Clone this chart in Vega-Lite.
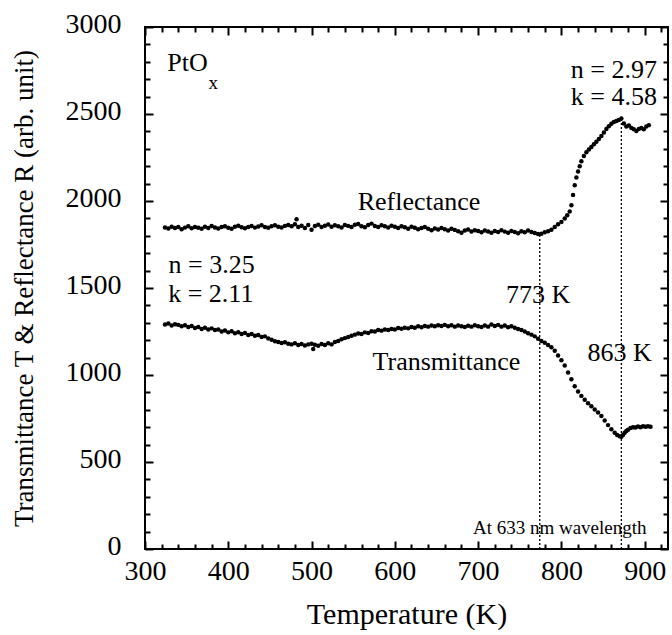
{
"$schema": "https://vega.github.io/schema/vega-lite/v6.json",
"width": 523, "height": 522,
"autosize": {"type": "none"},
"padding": {"left": 145, "top": 27, "right": 4, "bottom": 86},
"background": "white",
"config": {
  "view": {"stroke": "black", "strokeWidth": 2},
  "font": "Liberation Serif",
  "axis": {"labelFont": "Liberation Serif", "titleFont": "Liberation Serif", "labelColor": "black", "titleColor": "black", "tickColor": "black", "grid": false, "domain": false, "tickWidth": 2, "labelFlush": false, "labelOverlap": false, "titleFontWeight": "normal"}
},
"datasets": {
"pts": [
{"s":"R","t":324,"v":1848},{"s":"R","t":328,"v":1842},{"s":"R","t":332,"v":1852},{"s":"R","t":336,"v":1845},{"s":"R","t":340,"v":1850},{"s":"R","t":344,"v":1838},{"s":"R","t":348,"v":1847},{"s":"R","t":352,"v":1855},{"s":"R","t":356,"v":1843},{"s":"R","t":360,"v":1850},{"s":"R","t":364,"v":1846},{"s":"R","t":368,"v":1840},{"s":"R","t":372,"v":1852},{"s":"R","t":376,"v":1845},{"s":"R","t":380,"v":1856},{"s":"R","t":384,"v":1848},{"s":"R","t":388,"v":1842},{"s":"R","t":392,"v":1850},{"s":"R","t":396,"v":1855},{"s":"R","t":400,"v":1846},{"s":"R","t":404,"v":1840},{"s":"R","t":408,"v":1852},{"s":"R","t":412,"v":1858},{"s":"R","t":416,"v":1849},{"s":"R","t":420,"v":1843},{"s":"R","t":424,"v":1851},{"s":"R","t":428,"v":1856},{"s":"R","t":432,"v":1847},{"s":"R","t":436,"v":1853},{"s":"R","t":440,"v":1860},{"s":"R","t":444,"v":1851},{"s":"R","t":448,"v":1846},{"s":"R","t":452,"v":1855},{"s":"R","t":456,"v":1861},{"s":"R","t":460,"v":1852},{"s":"R","t":464,"v":1848},{"s":"R","t":468,"v":1857},{"s":"R","t":472,"v":1862},{"s":"R","t":476,"v":1855},{"s":"R","t":480,"v":1866},{"s":"R","t":482,"v":1895},{"s":"R","t":484,"v":1850},{"s":"R","t":488,"v":1858},{"s":"R","t":492,"v":1845},{"s":"R","t":496,"v":1862},{"s":"R","t":500,"v":1835},{"s":"R","t":504,"v":1856},{"s":"R","t":508,"v":1863},{"s":"R","t":512,"v":1850},{"s":"R","t":516,"v":1858},{"s":"R","t":520,"v":1865},{"s":"R","t":524,"v":1852},{"s":"R","t":528,"v":1860},{"s":"R","t":532,"v":1855},{"s":"R","t":536,"v":1848},{"s":"R","t":540,"v":1862},{"s":"R","t":544,"v":1857},{"s":"R","t":548,"v":1851},{"s":"R","t":552,"v":1863},{"s":"R","t":556,"v":1868},{"s":"R","t":560,"v":1855},{"s":"R","t":564,"v":1849},{"s":"R","t":568,"v":1862},{"s":"R","t":572,"v":1870},{"s":"R","t":576,"v":1856},{"s":"R","t":580,"v":1850},{"s":"R","t":584,"v":1861},{"s":"R","t":588,"v":1855},{"s":"R","t":592,"v":1848},{"s":"R","t":596,"v":1858},{"s":"R","t":600,"v":1852},{"s":"R","t":604,"v":1845},{"s":"R","t":608,"v":1855},{"s":"R","t":612,"v":1849},{"s":"R","t":616,"v":1840},{"s":"R","t":620,"v":1852},{"s":"R","t":624,"v":1846},{"s":"R","t":628,"v":1838},{"s":"R","t":632,"v":1845},{"s":"R","t":636,"v":1850},{"s":"R","t":640,"v":1840},{"s":"R","t":644,"v":1832},{"s":"R","t":648,"v":1842},{"s":"R","t":652,"v":1836},{"s":"R","t":656,"v":1845},{"s":"R","t":660,"v":1838},{"s":"R","t":664,"v":1830},{"s":"R","t":668,"v":1840},{"s":"R","t":672,"v":1834},{"s":"R","t":676,"v":1826},{"s":"R","t":680,"v":1818},{"s":"R","t":684,"v":1830},{"s":"R","t":688,"v":1836},{"s":"R","t":692,"v":1825},{"s":"R","t":696,"v":1832},{"s":"R","t":700,"v":1828},{"s":"R","t":704,"v":1820},{"s":"R","t":708,"v":1830},{"s":"R","t":712,"v":1825},{"s":"R","t":716,"v":1818},{"s":"R","t":720,"v":1828},{"s":"R","t":724,"v":1822},{"s":"R","t":728,"v":1832},{"s":"R","t":732,"v":1824},{"s":"R","t":736,"v":1818},{"s":"R","t":740,"v":1828},{"s":"R","t":744,"v":1822},{"s":"R","t":748,"v":1815},{"s":"R","t":752,"v":1826},{"s":"R","t":756,"v":1820},{"s":"R","t":760,"v":1830},{"s":"R","t":764,"v":1822},{"s":"R","t":768,"v":1816},{"s":"R","t":772,"v":1810},{"s":"R","t":776,"v":1812},{"s":"R","t":780,"v":1820},{"s":"R","t":784,"v":1826},{"s":"R","t":788,"v":1835},{"s":"R","t":792,"v":1850},{"s":"R","t":796,"v":1866},{"s":"R","t":800,"v":1880},{"s":"R","t":804,"v":1900},{"s":"R","t":807,"v":1918},{"s":"R","t":810,"v":1940},{"s":"R","t":812,"v":1975},{"s":"R","t":814,"v":2035},{"s":"R","t":816,"v":2090},{"s":"R","t":818,"v":2135},{"s":"R","t":820,"v":2170},{"s":"R","t":822,"v":2200},{"s":"R","t":824,"v":2228},{"s":"R","t":827,"v":2258},{"s":"R","t":830,"v":2280},{"s":"R","t":833,"v":2296},{"s":"R","t":836,"v":2310},{"s":"R","t":839,"v":2326},{"s":"R","t":842,"v":2340},{"s":"R","t":845,"v":2356},{"s":"R","t":848,"v":2374},{"s":"R","t":851,"v":2394},{"s":"R","t":854,"v":2414},{"s":"R","t":857,"v":2430},{"s":"R","t":860,"v":2444},{"s":"R","t":863,"v":2454},{"s":"R","t":866,"v":2460},{"s":"R","t":869,"v":2466},{"s":"R","t":872,"v":2474},{"s":"R","t":875,"v":2445},{"s":"R","t":878,"v":2428},{"s":"R","t":881,"v":2434},{"s":"R","t":884,"v":2420},{"s":"R","t":887,"v":2412},{"s":"R","t":890,"v":2402},{"s":"R","t":893,"v":2414},{"s":"R","t":896,"v":2420},{"s":"R","t":899,"v":2412},{"s":"R","t":902,"v":2428},{"s":"R","t":905,"v":2436},
{"s":"T","t":324,"v":1290},{"s":"T","t":328,"v":1296},{"s":"T","t":332,"v":1285},{"s":"T","t":336,"v":1292},{"s":"T","t":340,"v":1288},{"s":"T","t":344,"v":1280},{"s":"T","t":348,"v":1286},{"s":"T","t":352,"v":1276},{"s":"T","t":356,"v":1282},{"s":"T","t":360,"v":1270},{"s":"T","t":364,"v":1276},{"s":"T","t":368,"v":1265},{"s":"T","t":372,"v":1272},{"s":"T","t":376,"v":1262},{"s":"T","t":380,"v":1268},{"s":"T","t":384,"v":1258},{"s":"T","t":388,"v":1262},{"s":"T","t":392,"v":1250},{"s":"T","t":396,"v":1256},{"s":"T","t":400,"v":1245},{"s":"T","t":404,"v":1252},{"s":"T","t":408,"v":1240},{"s":"T","t":412,"v":1246},{"s":"T","t":416,"v":1236},{"s":"T","t":420,"v":1242},{"s":"T","t":424,"v":1230},{"s":"T","t":428,"v":1236},{"s":"T","t":432,"v":1225},{"s":"T","t":436,"v":1230},{"s":"T","t":440,"v":1218},{"s":"T","t":444,"v":1222},{"s":"T","t":448,"v":1210},{"s":"T","t":452,"v":1202},{"s":"T","t":456,"v":1194},{"s":"T","t":460,"v":1190},{"s":"T","t":464,"v":1184},{"s":"T","t":468,"v":1188},{"s":"T","t":472,"v":1180},{"s":"T","t":476,"v":1176},{"s":"T","t":480,"v":1182},{"s":"T","t":484,"v":1172},{"s":"T","t":488,"v":1178},{"s":"T","t":492,"v":1170},{"s":"T","t":496,"v":1176},{"s":"T","t":500,"v":1180},{"s":"T","t":502,"v":1150},{"s":"T","t":504,"v":1174},{"s":"T","t":508,"v":1168},{"s":"T","t":512,"v":1178},{"s":"T","t":516,"v":1172},{"s":"T","t":520,"v":1182},{"s":"T","t":524,"v":1176},{"s":"T","t":528,"v":1190},{"s":"T","t":532,"v":1196},{"s":"T","t":536,"v":1205},{"s":"T","t":540,"v":1212},{"s":"T","t":544,"v":1218},{"s":"T","t":548,"v":1226},{"s":"T","t":552,"v":1232},{"s":"T","t":556,"v":1238},{"s":"T","t":560,"v":1235},{"s":"T","t":564,"v":1245},{"s":"T","t":568,"v":1242},{"s":"T","t":572,"v":1252},{"s":"T","t":576,"v":1250},{"s":"T","t":580,"v":1258},{"s":"T","t":584,"v":1255},{"s":"T","t":588,"v":1262},{"s":"T","t":592,"v":1258},{"s":"T","t":596,"v":1265},{"s":"T","t":600,"v":1262},{"s":"T","t":604,"v":1270},{"s":"T","t":608,"v":1266},{"s":"T","t":612,"v":1272},{"s":"T","t":616,"v":1268},{"s":"T","t":620,"v":1276},{"s":"T","t":624,"v":1272},{"s":"T","t":628,"v":1280},{"s":"T","t":632,"v":1275},{"s":"T","t":636,"v":1282},{"s":"T","t":640,"v":1278},{"s":"T","t":644,"v":1285},{"s":"T","t":648,"v":1280},{"s":"T","t":652,"v":1286},{"s":"T","t":656,"v":1282},{"s":"T","t":660,"v":1288},{"s":"T","t":664,"v":1280},{"s":"T","t":668,"v":1286},{"s":"T","t":672,"v":1278},{"s":"T","t":676,"v":1284},{"s":"T","t":680,"v":1280},{"s":"T","t":684,"v":1276},{"s":"T","t":688,"v":1283},{"s":"T","t":692,"v":1278},{"s":"T","t":696,"v":1286},{"s":"T","t":700,"v":1280},{"s":"T","t":704,"v":1276},{"s":"T","t":708,"v":1284},{"s":"T","t":712,"v":1278},{"s":"T","t":716,"v":1290},{"s":"T","t":720,"v":1282},{"s":"T","t":724,"v":1288},{"s":"T","t":728,"v":1278},{"s":"T","t":732,"v":1284},{"s":"T","t":736,"v":1275},{"s":"T","t":740,"v":1280},{"s":"T","t":744,"v":1272},{"s":"T","t":748,"v":1265},{"s":"T","t":752,"v":1258},{"s":"T","t":756,"v":1250},{"s":"T","t":760,"v":1240},{"s":"T","t":764,"v":1232},{"s":"T","t":768,"v":1222},{"s":"T","t":772,"v":1208},{"s":"T","t":776,"v":1195},{"s":"T","t":780,"v":1185},{"s":"T","t":784,"v":1172},{"s":"T","t":788,"v":1160},{"s":"T","t":792,"v":1140},{"s":"T","t":796,"v":1112},{"s":"T","t":800,"v":1085},{"s":"T","t":804,"v":1055},{"s":"T","t":808,"v":1015},{"s":"T","t":812,"v":975},{"s":"T","t":816,"v":935},{"s":"T","t":820,"v":905},{"s":"T","t":824,"v":880},{"s":"T","t":828,"v":858},{"s":"T","t":832,"v":838},{"s":"T","t":836,"v":820},{"s":"T","t":840,"v":802},{"s":"T","t":844,"v":784},{"s":"T","t":848,"v":764},{"s":"T","t":852,"v":738},{"s":"T","t":856,"v":712},{"s":"T","t":860,"v":688},{"s":"T","t":864,"v":668},{"s":"T","t":867,"v":655},{"s":"T","t":870,"v":648},{"s":"T","t":872,"v":645},{"s":"T","t":874,"v":655},{"s":"T","t":876,"v":668},{"s":"T","t":878,"v":678},{"s":"T","t":880,"v":685},{"s":"T","t":883,"v":695},{"s":"T","t":886,"v":700},{"s":"T","t":889,"v":698},{"s":"T","t":892,"v":704},{"s":"T","t":895,"v":700},{"s":"T","t":898,"v":706},{"s":"T","t":901,"v":702},{"s":"T","t":904,"v":706},{"s":"T","t":907,"v":703}
],
"rules": [
{"t": 774, "y0": 0, "y1": 1812},
{"t": 872, "y0": 0, "y1": 2472}
],
"labels": [
{"t": 351, "v": 2793, "label": "PtO"},
{"t": 863, "v": 2755, "label": "n = 2.97"},
{"t": 863, "v": 2595, "label": "k = 4.58"},
{"t": 629, "v": 1995, "label": "Reflectance"},
{"t": 380, "v": 1630, "label": "n = 3.25"},
{"t": 379, "v": 1465, "label": "k = 2.11"},
{"t": 772, "v": 1460, "label": "773 K"},
{"t": 662, "v": 1072, "label": "Transmittance"},
{"t": 870, "v": 1126, "label": "863 K"}
],
"small": [
{"t": 382, "v": 2680, "label": "x"},
{"t": 798, "v": 118, "label": "At 633 nm wavelength"}
]
},
"resolve": {"axis": {"x": "independent", "y": "independent"}},
"layer": [
{
  "data": {"name": "pts"},
  "mark": {"type": "point", "filled": true, "color": "black", "size": 20, "opacity": 1},
  "encoding": {
    "x": {"field": "t", "type": "quantitative", "scale": {"domain": [300, 928], "nice": false, "zero": false},
      "axis": {"orient": "bottom", "values": [300, 400, 500, 600, 700, 800, 900], "format": "d", "tickSize": -8, "labelFontSize": 28, "labelPadding": 16, "title": "Temperature (K)", "titleFontSize": 30, "titlePadding": 14}},
    "y": {"field": "v", "type": "quantitative", "scale": {"domain": [0, 3000], "nice": false},
      "axis": {"orient": "left", "values": [0, 500, 1000, 1500, 2000, 2500, 3000], "format": "d", "tickSize": -8, "labelFontSize": 28, "labelPadding": 32, "labelOffset": -3, "title": "Transmittance T & Reflectance R (arb. unit)", "titleFontSize": 27, "titlePadding": 27}}
  }
},
{
  "data": {"name": "rules"},
  "mark": {"type": "rule", "strokeDash": [2, 2], "strokeWidth": 1.3, "color": "black"},
  "encoding": {
    "x": {"field": "t", "type": "quantitative",
      "axis": {"orient": "bottom", "values": [320, 340, 360, 380, 420, 440, 460, 480, 520, 540, 560, 580, 620, 640, 660, 680, 720, 740, 760, 780, 820, 840, 860, 880, 920], "tickSize": -5, "labels": false, "title": null}},
    "y": {"field": "y0", "type": "quantitative",
      "axis": {"orient": "left", "values": [100, 200, 300, 400, 600, 700, 800, 900, 1100, 1200, 1300, 1400, 1600, 1700, 1800, 1900, 2100, 2200, 2300, 2400, 2600, 2700, 2800, 2900], "tickSize": -5, "labels": false, "title": null}},
    "y2": {"field": "y1"}
  }
},
{
  "data": {"name": "labels"},
  "mark": {"type": "text", "fontSize": 26, "font": "Liberation Serif", "color": "black", "align": "center", "baseline": "middle"},
  "encoding": {
    "x": {"field": "t", "type": "quantitative",
      "axis": {"orient": "top", "values": [300, 400, 500, 600, 700, 800, 900], "tickSize": -8, "labels": false, "title": null}},
    "y": {"field": "v", "type": "quantitative",
      "axis": {"orient": "right", "values": [0, 500, 1000, 1500, 2000, 2500, 3000], "tickSize": -8, "labels": false, "title": null}},
    "text": {"field": "label", "type": "nominal"}
  }
},
{
  "data": {"name": "small"},
  "mark": {"type": "text", "fontSize": 19, "font": "Liberation Serif", "color": "black", "align": "center", "baseline": "middle"},
  "encoding": {
    "x": {"field": "t", "type": "quantitative",
      "axis": {"orient": "top", "values": [320, 340, 360, 380, 420, 440, 460, 480, 520, 540, 560, 580, 620, 640, 660, 680, 720, 740, 760, 780, 820, 840, 860, 880, 920], "tickSize": -5, "labels": false, "title": null}},
    "y": {"field": "v", "type": "quantitative",
      "axis": {"orient": "right", "values": [100, 200, 300, 400, 600, 700, 800, 900, 1100, 1200, 1300, 1400, 1600, 1700, 1800, 1900, 2100, 2200, 2300, 2400, 2600, 2700, 2800, 2900], "tickSize": -5, "labels": false, "title": null}},
    "text": {"field": "label", "type": "nominal"}
  }
}
]
}
